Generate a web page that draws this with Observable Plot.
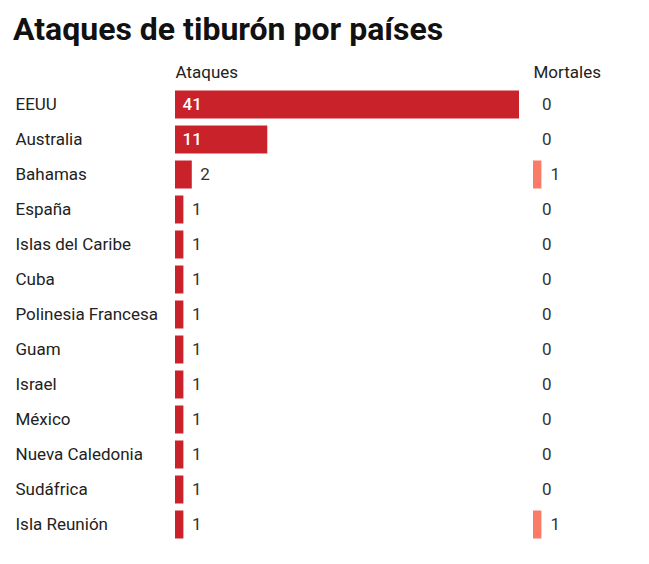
<!DOCTYPE html>
<html>
<head>
<meta charset="utf-8">
<script src="https://cdn.jsdelivr.net/npm/d3@7"></script>
<script src="https://cdn.jsdelivr.net/npm/@observablehq/plot@0.6"></script>
<style>
  html, body { margin: 0; padding: 0; background: #fff; }
  body { width: 649px; height: 564px; position: relative; font-family: Roboto, "Noto Sans", sans-serif; }
  #title { position: absolute; top: 11px; left: 13px; font-size: 32px; font-weight: 700; line-height: 36px; color: #111; white-space: nowrap; }
  #charts { position: absolute; top: 50px; left: 0; display: flex; }
</style>
</head>
<body>
<div id="title">Ataques de tiburón por países</div>
<div id="charts"></div>
<script>
const paises = ["EEUU", "Australia", "Bahamas", "España", "Islas del Caribe", "Cuba", "Polinesia Francesa", "Guam", "Israel", "México", "Nueva Caledonia", "Sudáfrica", "Isla Reunión"];
const ataques = [41, 11, 2, 1, 1, 1, 1, 1, 1, 1, 1, 1, 1];
const mortales = [0, 0, 1, 0, 0, 0, 0, 0, 0, 0, 0, 0, 1];
const encabezados = ["Ataques", "Mortales"];

const data = paises.map((p, i) => ({pais: p, ataques: ataques[i], mortales: mortales[i]}));

const rojo = "#c9222a";
const salmon = "#fb7b69";
const texto = "#333";
const fs = 17;
const mTop = 36.5, mBottom = 12, rowsH = 35 * paises.length;

const chartA = Plot.plot({
  width: 530, height: mTop + rowsH + mBottom,
  marginLeft: 175, marginRight: 11, marginTop: mTop, marginBottom: mBottom,
  x: {domain: [0, 41], axis: null},
  y: {domain: paises, axis: null, padding: 0},
  style: {fontFamily: "Roboto, sans-serif", fontSize: fs + "px", color: texto, background: "transparent", overflow: "visible"},
  marks: [
    Plot.barX(data, {x: "ataques", y: "pais", fill: rojo, insetTop: 3.5, insetBottom: 3.5}),
    Plot.text(data, {filter: d => d.ataques > 5, x: () => 0, y: "pais", text: d => String(d.ataques), dx: 7, textAnchor: "start", fill: "white", fontSize: fs, fontWeight: 500}),
    Plot.text(data, {filter: d => d.ataques <= 5, x: "ataques", y: "pais", text: d => String(d.ataques), dx: 8, textAnchor: "start", fill: texto, fontSize: fs}),
    Plot.text(data, {y: "pais", text: "pais", frameAnchor: "left", dx: -160, textAnchor: "start", fill: "#222", fontSize: fs}),
    Plot.text([encabezados[0]], {frameAnchor: "top-left", lineAnchor: "middle", dy: -14, textAnchor: "start", fill: "#222", fontSize: fs})
  ]
});

const chartB = Plot.plot({
  width: 119, height: mTop + rowsH + mBottom,
  marginLeft: 3, marginRight: 0, marginTop: mTop, marginBottom: mBottom,
  x: {domain: [0, 41 * 116 / 344], axis: null},
  y: {domain: paises, axis: null, padding: 0},
  style: {fontFamily: "Roboto, sans-serif", fontSize: fs + "px", color: texto, background: "transparent", overflow: "visible"},
  marks: [
    Plot.barX(data, {x: "mortales", y: "pais", fill: salmon, insetTop: 3.5, insetBottom: 3.5}),
    Plot.text(data, {x: "mortales", y: "pais", text: d => String(d.mortales), dx: 8.5, textAnchor: "start", fill: texto, fontSize: fs}),
    Plot.text([encabezados[1]], {frameAnchor: "top-left", lineAnchor: "middle", dy: -14, textAnchor: "start", fill: "#222", fontSize: fs})
  ]
});

document.getElementById("charts").append(chartA, chartB);
</script>
</body>
</html>
